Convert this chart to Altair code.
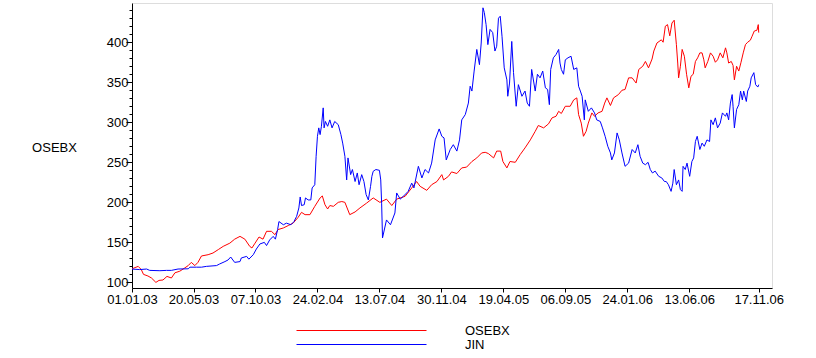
import altair as alt
import pandas as pd

# Days since 01.01.2003 and index values
osebx_days = [0, 14, 21, 26, 36, 44, 54, 61, 70, 79, 89, 97, 108, 119, 127, 134, 142, 149, 157, 172, 183, 195, 206, 221, 232, 244, 255, 266, 271, 278, 287, 296, 304, 315, 323, 330, 342, 353, 364, 375, 383, 391, 402, 413, 425, 430, 436, 442, 447, 455, 466, 474, 481, 492, 504, 515, 530, 545, 560, 575, 587, 598, 617, 632, 643, 651, 666, 677, 689, 700, 704, 715, 722, 734, 745, 756, 768, 779, 790, 798, 805, 817, 824, 833, 838, 847, 854, 866, 877, 888, 900, 911, 918, 930, 941, 949, 958, 964, 970, 979, 990, 998, 1005, 1009, 1015, 1020, 1026, 1031, 1039, 1045, 1053, 1062, 1068, 1073, 1081, 1088, 1099, 1107, 1114, 1122, 1130, 1139, 1145, 1154, 1160, 1167, 1175, 1179, 1186, 1196, 1200, 1205, 1210, 1215, 1220, 1225, 1230, 1233, 1235, 1239, 1243, 1248, 1253, 1258, 1263, 1268, 1273, 1278, 1283, 1288, 1292, 1295, 1301, 1307, 1313, 1318, 1323, 1329, 1335, 1341, 1344, 1348, 1354, 1358, 1361, 1366, 1371, 1376, 1381, 1386, 1391, 1397, 1401, 1406, 1412, 1415, 1416]
osebx_vals = [117, 120, 116, 110, 108, 105.5, 100, 102.5, 103, 107.5, 105.5, 112, 114, 118, 121, 125, 121, 125, 133, 134.6, 136.7, 141, 145, 149, 154, 157.5, 154, 145, 143, 149, 156.7, 154, 163.8, 163.8, 159.6, 166, 168, 171, 174, 181, 187.5, 184.6, 184.6, 195, 205.5, 208, 197, 191.7, 196, 195, 200, 201, 200, 184.6, 188, 193, 199, 205.5, 200, 204, 196, 204, 207.5, 218, 226, 220, 215, 222, 226, 234.6, 228, 232.5, 238, 236, 243, 244, 251, 255.5, 261.7, 262.5, 261, 255.5, 264, 264, 251, 243, 251, 250, 259.6, 268, 278, 288.7, 296, 293, 298, 305.5, 307.5, 313.7, 311, 320, 320, 328, 330.5, 309.6, 299, 282.5, 288.7, 299, 311.7, 307.5, 311.7, 313.7, 324, 330.5, 321, 330.5, 334.6, 340, 341, 355.5, 355.5, 349, 366, 370, 376, 368, 379, 389, 399, 403, 400, 420, 422, 408, 424, 427.5, 397, 374, 355.5, 370, 391, 382.5, 360, 343, 357.5, 360, 376, 380.5, 386.7, 386.7, 378, 368, 376, 386.7, 382.5, 375, 378, 386.7, 380.5, 393, 386.7, 374, 376, 371, 353, 370, 364, 375, 386.7, 397, 400, 402.5, 407.5, 414, 415, 422, 412]

jin_days = [0, 17, 33, 40, 63, 78, 89, 104, 127, 131, 146, 157, 168, 191, 198, 210, 217, 223, 232, 244, 247, 259, 264, 274, 281, 289, 299, 304, 311, 319, 324, 329, 332, 342, 349, 359, 366, 372, 377, 380, 383, 389, 392, 398, 404, 407, 413, 416, 419, 422, 425, 428, 432, 434, 437, 442, 447, 452, 458, 466, 472, 476, 481, 485, 488, 494, 498, 504, 509, 513, 519, 524, 529, 534, 539, 542, 545, 551, 559, 562, 564, 566, 575, 584, 594, 598, 606, 613, 624, 632, 637, 647, 655, 662, 670, 677, 685, 694, 700, 705, 710, 719, 726, 734, 740, 745, 753, 760, 764, 768, 773, 779, 785, 789, 793, 796, 800, 804, 809, 815, 820, 824, 828, 832, 836, 841, 847, 849, 853, 858, 862, 868, 873, 881, 888, 893, 898, 903, 911, 916, 922, 928, 934, 939, 943, 946, 952, 958, 964, 967, 970, 975, 979, 985, 992, 998, 1005, 1009, 1013, 1017, 1022, 1024, 1031, 1038, 1045, 1050, 1058, 1063, 1069, 1075, 1081, 1084, 1090, 1096, 1101, 1107, 1114, 1122, 1130, 1137, 1143, 1148, 1154, 1160, 1166, 1171, 1176, 1182, 1190, 1197, 1203, 1207, 1212, 1218, 1222, 1225, 1230, 1235, 1239, 1243, 1245, 1250, 1254, 1260, 1265, 1269, 1273, 1277, 1283, 1288, 1293, 1299, 1305, 1308, 1313, 1318, 1323, 1329, 1334, 1341, 1344, 1348, 1352, 1356, 1358, 1361, 1366, 1371, 1375, 1379, 1382, 1388, 1391, 1396, 1399, 1405, 1409, 1414, 1416]
jin_vals = [116.7, 116, 116.7, 115, 114.6, 115, 115, 116.7, 117, 119, 119, 119, 120, 121, 123, 126, 128, 131.7, 125, 126, 130.5, 132.5, 129, 134.6, 141.7, 148, 150, 146, 153, 157.5, 154, 166, 176, 172, 174, 172, 176, 182.5, 193, 206.7, 196, 197, 205.5, 203, 203, 218, 222, 257.5, 282.5, 293, 284.6, 295, 318, 293, 301, 295, 303, 293, 301, 297, 284.6, 274, 257.5, 228, 255.5, 234.6, 241, 226, 236.7, 222, 234.6, 226, 209.6, 203, 220, 232.5, 238.8, 241, 240, 228, 199, 155.5, 178, 172, 186.7, 211.7, 204, 207.5, 213.7, 224, 218, 245, 230.5, 241, 236.7, 249, 278, 291.7, 282.5, 280.5, 253, 266, 272, 264, 278, 303, 309.6, 324, 345, 339, 364, 391, 372, 399, 443, 437, 422, 397, 416, 412, 389, 395, 430, 432.5, 407.5, 368, 353, 332.5, 349, 401, 362, 320, 347, 332.5, 339, 324, 320, 366, 339, 360, 355.5, 364, 343, 341, 322, 366, 380.5, 384.6, 391, 374, 366, 360, 378, 380.5, 382.5, 366, 368, 345, 339, 332.5, 303, 328, 313.7, 318, 311.7, 303, 301, 293, 282.5, 270, 261.7, 253, 261.7, 286.7, 278, 261.7, 245, 249, 266, 261.7, 272, 257.5, 249, 247, 250, 241, 236.7, 239, 232.5, 230.5, 226, 226, 222, 213.7, 224, 241, 222, 228, 216, 213.7, 245, 241, 249, 232.5, 251, 255.5, 276, 282.5, 266, 274, 270, 278, 276, 303, 297, 305.5, 293, 299, 311.7, 307.5, 311.7, 303, 324, 334.6, 320, 293, 316, 322, 339, 328, 339, 326, 339, 345, 355.5, 362, 347, 344, 347]

series_names = ["OSEBX", "JIN"]
series_colors = ["#ff0000", "#0000ff"]
tick_dates = ["2003-01-01", "2003-05-20", "2003-10-07", "2004-02-24", "2004-07-13",
              "2004-11-30", "2005-04-19", "2005-09-06", "2006-01-24", "2006-06-13", "2006-11-17"]

start = pd.Timestamp("2003-01-01")
frames = []
for name, days, vals in [("OSEBX", osebx_days, osebx_vals), ("JIN", jin_days, jin_vals)]:
    d = pd.DataFrame({
        "date": [(start + pd.Timedelta(days=int(x))).strftime("%Y-%m-%d") for x in days],
        "value": vals,
        "series": name,
    })
    d["i"] = range(len(d))
    frames.append(d)
df = pd.concat(frames, ignore_index=True)

def dt(s):
    y, m, d = map(int, s.split("-"))
    return alt.DateTime(year=y, month=m, date=d, utc=True)

font = "Liberation Sans"

chart = alt.Chart(df).mark_line(strokeWidth=1, interpolate="linear").encode(
    x=alt.X("date:T",
            scale=alt.Scale(type="utc", domain=[dt("2003-01-01"), dt("2006-12-17")]),
            axis=alt.Axis(values=[dt(s) for s in tick_dates], format="%d.%m.%y",
                          title=None, grid=False, tickSize=4, labelPadding=1,
                          labelFontSize=13, labelFont=font, labelColor="black",
                          domainColor="black", tickColor="black",
                          labelOverlap=False, labelFlush=False)),
    y=alt.Y("value:Q",
            scale=alt.Scale(domain=[93, 449], nice=False, zero=False),
            axis=alt.Axis(values=list(range(100, 441, 10)),
                          labelExpr="datum.value % 50 === 0 ? datum.label : ''",
                          tickSize={"condition": {"test": "datum.value % 50 === 0", "value": 6}, "value": 3},
                          grid=False, labelPadding=-2,
                          labelFontSize=13, labelFont=font, labelColor="black",
                          domainColor="black", tickColor="black",
                          title="OSEBX", titleAngle=0, titleFont=font, titleFontSize=13,
                          titleFontWeight="normal", titleColor="black",
                          titleX=-78, titleY=144, titleAlign="center",
                          titleBaseline="middle")),
    color=alt.Color("series:N",
                    scale=alt.Scale(domain=series_names, range=series_colors),
                    legend=alt.Legend(orient="none", legendX=158, legendY=321,
                                      title=None, symbolType="M0,0H130",
                                      symbolSize=4, symbolStrokeWidth=1,
                                      labelOffset=162, labelFont=font,
                                      labelFontSize=13, labelColor="black",
                                      rowPadding=0, padding=0)),
    order=alt.Order("i:Q"),
).properties(
    width=640, height=285,
    padding={"left": 132, "top": 3, "right": 44, "bottom": 70},
    autosize=alt.AutoSizeParams(type="none"),
).configure_view(stroke=None).configure(background="white")

chart.save("out.html", embed_options={"renderer": "svg", "actions": False})
